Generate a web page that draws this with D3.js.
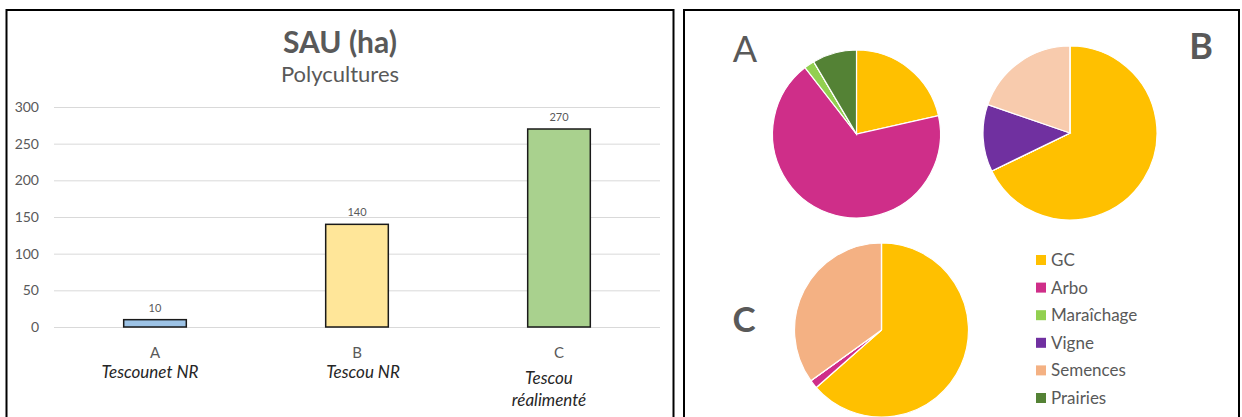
<!DOCTYPE html>
<html>
<head>
<meta charset="utf-8">
<script src="https://cdn.jsdelivr.net/npm/d3@7"></script>
<style>
  body { margin: 0; background: #fff; }
  svg { display: block; font-family: Lato, 'Open Sans', sans-serif; }
</style>
</head>
<body>
<svg id="viz" width="1242" height="417"></svg>
<script>
// BAR DATA
const categories = ['A', 'B', 'C'];
const subLabels = [['Tescounet NR'], ['Tescou NR'], ['Tescou', 'réalimenté']];
const values = [10, 140, 270];
const barColors = ['#9DC3E6', '#FFE699', '#A9D18E'];
const yTicks = [0, 50, 100, 150, 200, 250, 300];

// PIE DATA (share of SAU, %)
const cultures = ['GC', 'Arbo', 'Maraîchage', 'Vigne', 'Semences', 'Prairies'];
const cultureColors = ['#FFC000', '#CF2E89', '#92D050', '#7030A0', '#F4B183', '#548235'];
const pieA = [21.5, 68, 2, 0, 0, 8.5];
const pieB = [67.8, 0, 0, 12.5, 19.7, 0];
const pieC = [63.5, 1.6, 0, 0, 34.9, 0];

const svg = d3.select('#viz');

// PANEL FRAMES
svg.append('rect').attr('x', 6.5).attr('y', 10).attr('width', 667).attr('height', 420)
  .attr('fill', 'none').attr('stroke', '#000').attr('stroke-width', 2);
svg.append('rect').attr('x', 684).attr('y', 10).attr('width', 555).attr('height', 420)
  .attr('fill', 'none').attr('stroke', '#000').attr('stroke-width', 2);

// ---------- BAR CHART ----------
const x = d3.scaleBand().domain(categories).range([54, 660])
  .paddingInner(0.69).paddingOuter(0.345);
const y = d3.scaleLinear().domain([0, 300]).range([327, 107]);

svg.append('text').attr('x', 340).attr('y', 53).attr('text-anchor', 'middle')
  .style('font-size', '30px').style('font-weight', 'bold').style('fill', '#595959')
  .text('SAU (ha)');
svg.append('text').attr('x', 340).attr('y', 82).attr('text-anchor', 'middle')
  .style('font-size', '22px').style('fill', '#595959')
  .text('Polycultures');

const yAxis = svg.append('g').attr('transform', 'translate(54,0)')
  .call(d3.axisLeft(y).tickValues(yTicks).tickSize(-606).tickPadding(15));
yAxis.select('.domain').remove();
yAxis.selectAll('line').attr('stroke', '#d9d9d9');
yAxis.selectAll('text').style('font-size', '14px').style('fill', '#595959')
  .style('font-family', 'Lato, sans-serif');

svg.append('g').selectAll('rect').data(values).enter().append('rect')
  .attr('x', (d, i) => x(categories[i]))
  .attr('y', (d) => y(d))
  .attr('width', x.bandwidth())
  .attr('height', (d) => y(0) - y(d))
  .attr('fill', (d, i) => barColors[i])
  .attr('stroke', '#1a1a1a')
  .attr('stroke-width', 1.5);

svg.append('g').selectAll('text').data(values).enter().append('text')
  .attr('x', (d, i) => x(categories[i]) + x.bandwidth() / 2)
  .attr('y', (d) => y(d) - 8)
  .attr('text-anchor', 'middle')
  .style('font-size', '11px').style('fill', '#595959')
  .text((d) => d);

const xAxis = svg.append('g').attr('transform', 'translate(0,327)')
  .call(d3.axisBottom(x).tickSize(0).tickPadding(20));
xAxis.select('.domain').remove();
xAxis.selectAll('text').style('font-size', '15px').style('fill', '#595959')
  .style('font-family', 'Lato, sans-serif');

const subDx = [-5, 6, -10];
const subTop = [378, 378, 384];
subLabels.forEach((lines, i) => {
  lines.forEach((line, j) => {
    svg.append('text')
      .attr('x', x(categories[i]) + x.bandwidth() / 2 + subDx[i])
      .attr('y', subTop[i] + j * 22)
      .attr('text-anchor', 'middle')
      .style('font-size', '17px').style('font-style', 'italic').style('fill', '#262626')
      .text(line);
  });
});

// ---------- PIES ----------
const pie = d3.pie().sort(null).value((d) => d);

const drawPie = (vals, cx, cy, r, colors) => {
  const arc = d3.arc().innerRadius(0).outerRadius(r);
  svg.append('g').attr('transform', 'translate(' + cx + ',' + cy + ')')
    .selectAll('path').data(pie(vals)).enter().append('path')
    .attr('d', arc)
    .attr('fill', (d, i) => colors[i])
    .attr('stroke', '#fff')
    .attr('stroke-width', 1.2);
};

drawPie(pieA, 856.5, 134, 84, cultureColors);
const colorsB = cultureColors.slice();
colorsB[4] = '#F8CBAD';
drawPie(pieB, 1070, 133, 87, colorsB);
drawPie(pieC, 881.5, 330, 87, cultureColors);

svg.append('text').attr('x', 745).attr('y', 62).attr('text-anchor', 'middle')
  .style('font-size', '36px').style('fill', '#595959').text('A');
svg.append('text').attr('x', 1201).attr('y', 59).attr('text-anchor', 'middle')
  .style('font-size', '36px').style('font-weight', 'bold').style('fill', '#595959').text('B');
svg.append('text').attr('x', 744).attr('y', 332).attr('text-anchor', 'middle')
  .style('font-size', '35px').style('font-weight', 'bold').style('fill', '#595959').text('C');

// LEGEND
const legend = svg.append('g').attr('transform', 'translate(1036,0)')
  .selectAll('g').data(cultures).enter().append('g')
  .attr('transform', (d, i) => 'translate(0,' + (260 + i * 27.6) + ')');
legend.append('rect').attr('x', 0).attr('y', -5).attr('width', 10).attr('height', 10)
  .attr('fill', (d, i) => cultureColors[i]);
legend.append('text').attr('x', 15).attr('y', 0).attr('dy', '0.35em')
  .style('font-size', '17px').style('fill', '#595959')
  .text((d) => d);
</script>
</body>
</html>
